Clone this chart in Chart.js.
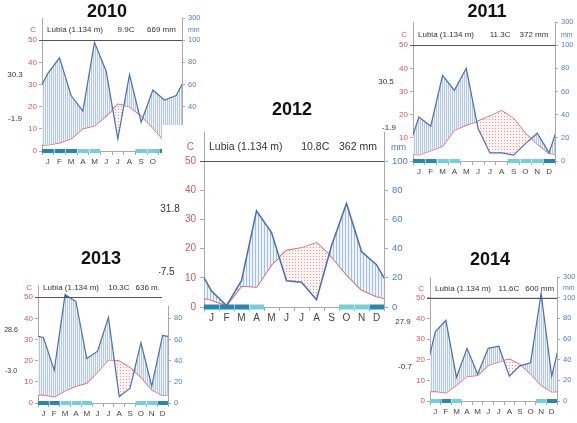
<!DOCTYPE html>
<html>
<head>
<meta charset="utf-8">
<script src="https://cdn.jsdelivr.net/npm/chart.js@4.4.0/dist/chart.umd.min.js"></script>
<style>
  html, body { margin: 0; padding: 0; background: #fff; }
  body { width: 577px; height: 423px; position: relative; overflow: hidden; }
  canvas { position: absolute; }
</style>
</head>
<body>
<script>
// Walter-Lieth style climate diagrams, Lubia 2010-2014
const months = ['J', 'F', 'M', 'A', 'M', 'J', 'J', 'A', 'S', 'O', 'N', 'D'];

// monthly mean temperature (C)
const temp2010 = [2.7, 3.7, 5.5, 10.1, 11.3, 15.8, 21.1, 20.0, 15.8, 10.4, 4.4, 2.9];
const temp2011 = [2.6, 4.4, 6.4, 13.3, 15.5, 17.2, 19.4, 21.7, 18.3, 11.9, 7.3, 3.3];
const temp2012 = [2.4, 0.5, 7.2, 6.9, 14.5, 19.4, 20.2, 22.0, 17.2, 11.1, 5.9, 3.6];
const temp2013 = [4.0, 2.9, 5.8, 8.0, 9.4, 14.6, 20.5, 19.8, 16.7, 12.3, 6.3, 3.6];
const temp2014 = [4.7, 3.9, 7.6, 11.9, 12.4, 17.3, 18.9, 20.2, 17.7, 13.2, 7.6, 4.4];

// monthly precipitation (mm)
const rain2010 = [70, 84, 50, 36, 98, 72, 11, 69, 26, 55, 46, 50];
const rain2011 = [38, 30, 74, 61, 80, 28, 7, 7, 5, 15, 24, 7];
const rain2012 = [11, 1, 18, 66, 51, 18, 17, 5, 42, 71, 38, 29];
const rain2013 = [62, 31, 125, 96, 42, 49, 81, 6, 14, 57, 16, 64];
const rain2014 = [67, 78, 23, 51, 26, 51, 53, 24, 34, 37, 140, 24];

// frost months: 2 = sure frost, 1 = probable frost, 0 = none
const frost2010 = [2, 2, 2, 1, 1, 0, 0, 0, 1, 1, 2, 2];
const frost2011 = [2, 2, 1, 1, 0, 0, 0, 0, 1, 1, 1, 2];
const frost2012 = [2, 2, 2, 1, 0, 0, 0, 0, 0, 1, 1, 2];
const frost2013 = [2, 2, 1, 1, 1, 0, 0, 0, 0, 1, 1, 2];
const frost2014 = [1, 2, 1, 0, 0, 0, 0, 0, 0, 0, 1, 2];

const station = 'Lubia (1.134 m)';
const tempTicks = [0, 10, 20, 30, 40, 50];

Chart.defaults.font.family = 'Liberation Sans';

// layout of each diagram on the page (plot box in page pixels)
const panels = [
  { year: '2010', temp: temp2010, rain: rain2010, frost: frost2010, meanT: '9.9C', total: '669 mm',
    tmax: '30.3', tmin: '-1.9', left: 42, right: 182, top: 18, bottom: 151, max: 60, top300: true,
    title: [107, 12], tmaxPos: [15, 75], tminPos: [15, 119] },
  { year: '2013', temp: temp2013, rain: rain2013, frost: frost2013, meanT: '10.3C', total: '636 m.',
    tmax: '28.6', tmin: '-3.0', left: 38, right: 168, top: 285, bottom: 403, max: 55.8, top300: false,
    title: [101, 259], tmaxPos: [11, 330], tminPos: [11, 371], extFont: 7 },
  { year: '2014', temp: temp2014, rain: rain2014, frost: frost2014, meanT: '11.6C', total: '600 mm',
    tmax: '27.9', tmin: '-0.7', left: 430, right: 557, top: 277, bottom: 401, max: 60, top300: true,
    title: [490, 260], tmaxPos: [403, 322], tminPos: [405, 367] },
  { year: '2012', temp: temp2012, rain: rain2012, frost: frost2012, meanT: '10.8C', total: '362 mm',
    tmax: '31.8', tmin: '-7.5', left: 204, right: 384, top: 132, bottom: 307, max: 60, top300: false,
    title: [292, 110], tmaxPos: [170, 209], tminPos: [166, 272], big: true, cover: [162, 125, 410, 306] },
  { year: '2011', temp: temp2011, rain: rain2011, frost: frost2011, meanT: '11.3C', total: '372 mm',
    tmax: '30.5', tmin: '-1.9', left: 413, right: 555, top: 22, bottom: 161, max: 60, top300: true,
    title: [487, 12], tmaxPos: [386, 82], tminPos: [389, 128], hideLeftZero: true }
];

// precipitation axis: 2 mm per degree up to 100 mm, compressed 1:20 above
function toPlot(mm) {
  return mm <= 100 ? mm / 2 : 50 + (mm - 100) / 20;
}

// month points at mid-month; Dec/Jan repeated outside the box so the clipped line wraps
function monthPoints(values, map) {
  const pts = values.map((v, i) => ({ x: i + 0.5, y: map(v) }));
  pts.unshift({ x: -0.5, y: map(values[11]) });
  pts.push({ x: 12.5, y: map(values[0]) });
  return pts;
}

function makePattern(w, h, bg, fg, draw) {
  const c = document.createElement('canvas');
  c.width = w;
  c.height = h;
  const g = c.getContext('2d');
  g.fillStyle = bg;
  g.fillRect(0, 0, w, h);
  g.fillStyle = fg;
  draw(g);
  return g.createPattern(c, 'repeat');
}

function text(ctx, s, x, y, font, color, align) {
  ctx.font = font;
  ctx.fillStyle = color;
  ctx.textAlign = align;
  ctx.textBaseline = 'middle';
  ctx.fillText(s, x, y);
}

function buildPanel(p) {
  const M = 45, T = 45, B = 26;
  const w = p.right - p.left, h = p.bottom - p.top;
  const ox = p.left - M, oy = p.top - T;
  const canvas = document.createElement('canvas');
  canvas.width = w + 2 * M;
  canvas.height = h + T + B;
  canvas.style.left = ox + 'px';
  canvas.style.top = oy + 'px';
  document.body.appendChild(canvas);

  const big = !!p.big;
  const fs = big ? 10 : 8;
  const lw = big ? 1.5 : 1.2;
  const tickLen = big ? 4 : 3;

  const hatch = big
    ? makePattern(3, 4, '#edf3fa', '#a7c0dd', g => g.fillRect(0, 0, 1, 4))
    : makePattern(2, 4, '#f0f5fb', '#b5c9e2', g => g.fillRect(0, 0, 1, 4));
  const dots = makePattern(3, 3, '#fdf3f3', '#e69a9a', g => g.fillRect(1, 1, 1, 1));

  const tempPts = monthPoints(p.temp, v => v);
  const rainPts = monthPoints(p.rain, toPlot);

  const decor = {
    id: 'decor',
    beforeDraw(chart) {
      if (!p.cover) return;
      const ctx = chart.ctx;
      ctx.save();
      ctx.fillStyle = '#fff';
      ctx.fillRect(p.cover[0] - ox, p.cover[1] - oy, p.cover[2] - p.cover[0], p.cover[3] - p.cover[1]);
      ctx.restore();
    },
    afterDraw(chart) {
      const ctx = chart.ctx, a = chart.chartArea;
      const xs = chart.scales.x, ys = chart.scales.y;
      ctx.save();

      // 50 C / 100 mm line
      const y50 = Math.round(ys.getPixelForValue(50)) + 0.5;
      ctx.strokeStyle = '#555';
      ctx.lineWidth = 1;
      ctx.beginPath();
      ctx.moveTo(a.left - tickLen, y50);
      ctx.lineTo(a.right, y50);
      ctx.stroke();

      // frost bar under the months
      const y0 = ys.getPixelForValue(0);
      const barH = big ? 5 : 4;
      p.frost.forEach((f, i) => {
        if (!f) return;
        const xa = xs.getPixelForValue(i), xb = xs.getPixelForValue(i + 1);
        ctx.fillStyle = f === 2 ? '#2389b3' : '#72d0da';
        ctx.fillRect(xa, y0 - barH / 2, xb - xa, barH);
        if (i > 0 && p.frost[i - 1]) {
          ctx.fillStyle = 'rgba(255,255,255,0.55)';
          ctx.fillRect(Math.round(xa), y0 - barH / 2, 1, barH);
        }
      });

      // header
      const yh = ys.getPixelForValue(55) + 1;
      const hf = (big ? 10.5 : 8) + 'px Liberation Sans';
      text(ctx, station, a.left + 5, yh, hf, '#333', 'left');
      text(ctx, p.meanT, a.left + 0.54 * w, yh, hf, '#333', 'left');
      text(ctx, p.total, a.left + 0.75 * w, yh, hf, '#333', 'left');

      // axis units
      text(ctx, 'C', a.left - tickLen - (big ? 6 : 3), yh, fs + 'px Liberation Sans', '#d45757', 'right');
      text(ctx, 'mm', a.right + tickLen + 3, yh, (fs - 1) + 'px Liberation Sans', '#4f7fc0', 'left');

      // year title
      text(ctx, p.year, p.title[0] - ox, p.title[1] - oy, 'bold 18px Liberation Sans', '#111', 'center');

      // absolute extremes
      const ef = (p.extFont || (big ? 10 : 8)) + 'px Liberation Sans';
      text(ctx, p.tmax, p.tmaxPos[0] - ox, p.tmaxPos[1] - oy, ef, '#333', 'center');
      text(ctx, p.tmin, p.tminPos[0] - ox, p.tminPos[1] - oy, ef, '#333', 'center');

      ctx.restore();
    }
  };

  new Chart(canvas, {
    type: 'line',
    data: {
      datasets: [
        { data: rainPts, borderColor: 'rgba(0,0,0,0)', borderWidth: 1, pointRadius: 0,
          fill: { target: { value: 50 }, above: '#1f5fae', below: 'rgba(0,0,0,0)' } },
        { data: rainPts, borderColor: '#4a6fb3', borderWidth: lw, pointRadius: 0,
          fill: { target: 2, above: hatch, below: dots } },
        { data: tempPts, borderColor: '#d9585a', borderWidth: lw, pointRadius: 0, fill: false }
      ]
    },
    options: {
      responsive: false,
      animation: false,
      devicePixelRatio: 1,
      layout: { padding: { top: T, left: 0, right: 0, bottom: 0 } },
      plugins: { legend: { display: false }, tooltip: { enabled: false } },
      elements: { line: { tension: 0 } },
      scales: {
        x: {
          type: 'linear', min: 0, max: 12,
          afterBuildTicks: s => {
            const t = [];
            for (let i = 0; i <= 24; i++) t.push({ value: i / 2 });
            s.ticks = t;
          },
          afterFit: s => { s.height = B; },
          ticks: {
            autoSkip: false, maxRotation: 0, padding: big ? 1 : 2,
            color: '#444', font: { size: fs },
            callback: v => (Number.isInteger(v) ? '' : months[Math.floor(v)])
          },
          grid: {
            drawOnChartArea: false, tickLength: 4,
            color: c => (c.tick && Number.isInteger(c.tick.value) ? '#aaa' : 'rgba(0,0,0,0)')
          },
          border: { color: '#aaa' }
        },
        y: {
          type: 'linear', position: 'left', min: 0, max: p.max,
          afterBuildTicks: s => { s.ticks = tempTicks.map(v => ({ value: v })); },
          afterFit: s => { s.width = M; },
          ticks: {
            color: '#d45757', font: { size: fs }, padding: big ? 4 : 2,
            callback: v => (p.hideLeftZero && v === 0 ? '' : String(v))
          },
          grid: { drawOnChartArea: false, tickLength: tickLen, color: '#aaa' },
          border: { color: '#aaa' }
        },
        y2: {
          type: 'linear', position: 'right', min: 0, max: p.max,
          afterBuildTicks: s => {
            const t = tempTicks.map(v => ({ value: v }));
            if (p.top300) t.push({ value: p.max });
            s.ticks = t;
          },
          afterFit: s => { s.width = M; },
          ticks: {
            color: '#4f7fc0', font: { size: fs - 0.5 }, padding: big ? 4 : 3,
            callback: v => (v === p.max && p.top300 ? '300' : String(v * 2))
          },
          grid: { drawOnChartArea: false, tickLength: tickLen, color: '#aaa' },
          border: { color: '#aaa' }
        }
      }
    },
    plugins: [decor]
  });
}

panels.forEach(buildPanel);
</script>
</body>
</html>
